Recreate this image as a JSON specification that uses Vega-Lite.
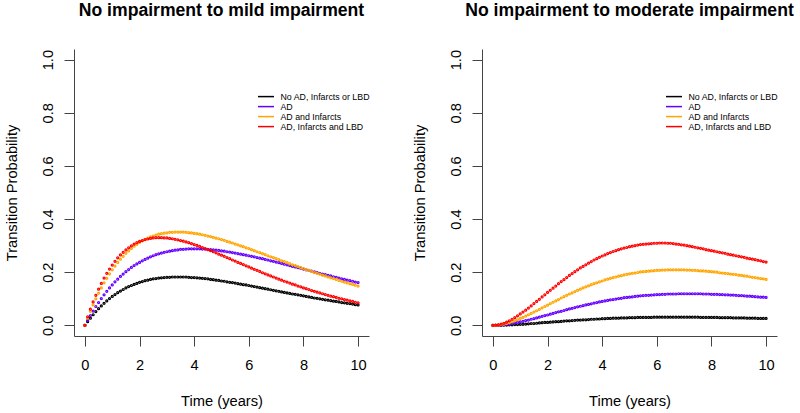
{
"$schema": "https://vega.github.io/schema/vega-lite/v6.json",
"background": "white",
"padding": {"left": 4, "top": 2, "right": 0, "bottom": 0},
"bounds": "flush",
"spacing": 113,
"resolve": {"legend": {"color": "independent"}},
"config": {
 "view": {"stroke": null},
 "font": "Liberation Sans",
 "axis": {"grid": false, "domainColor": "#444", "tickColor": "#444", "domainWidth": 1, "tickWidth": 1, "tickSize": 10, "labelFont": "Liberation Sans", "labelFontSize": 14.6, "labelColor": "#000", "titleFont": "Liberation Sans", "titleFontSize": 14.7, "titleFontWeight": "normal", "titleColor": "#000", "labelFlush": false, "labelOverlap": false},
 "legend": {"orient": "none", "legendX": 187, "legendY": 42.6, "title": null, "symbolType": "M-2,0H2", "symbolSize": 64, "symbolStrokeWidth": 1.5, "labelFont": "Liberation Sans", "labelFontSize": 8.8, "labelColor": "#000", "labelOffset": 9.5, "rowPadding": 0, "padding": 0}
},
"datasets": {
"groups": [{"g":1,"label":"No AD, Infarcts or LBD"},{"g":2,"label":"AD"},{"g":3,"label":"AD and Infarcts"},{"g":4,"label":"AD, Infarcts and LBD"}],
"mild": [
{"t":0,"g":1,"v":0},{"t":0.1,"g":1,"v":0.014},{"t":0.2,"g":1,"v":0.027},{"t":0.3,"g":1,"v":0.040},{"t":0.4,"g":1,"v":0.052},{"t":0.5,"g":1,"v":0.063},{"t":0.6,"g":1,"v":0.073},{"t":0.7,"g":1,"v":0.083},{"t":0.8,"g":1,"v":0.092},{"t":0.9,"g":1,"v":0.101},
{"t":1,"g":1,"v":0.109},{"t":1.1,"g":1,"v":0.116},{"t":1.2,"g":1,"v":0.123},{"t":1.3,"g":1,"v":0.129},{"t":1.4,"g":1,"v":0.135},{"t":1.5,"g":1,"v":0.141},{"t":1.6,"g":1,"v":0.146},{"t":1.7,"g":1,"v":0.150},{"t":1.8,"g":1,"v":0.154},{"t":1.9,"g":1,"v":0.158},
{"t":2,"g":1,"v":0.162},{"t":2.1,"g":1,"v":0.165},{"t":2.2,"g":1,"v":0.168},{"t":2.3,"g":1,"v":0.170},{"t":2.4,"g":1,"v":0.173},{"t":2.5,"g":1,"v":0.175},{"t":2.6,"g":1,"v":0.176},{"t":2.7,"g":1,"v":0.178},{"t":2.8,"g":1,"v":0.179},{"t":2.9,"g":1,"v":0.180},
{"t":3,"g":1,"v":0.181},{"t":3.1,"g":1,"v":0.181},{"t":3.2,"g":1,"v":0.182},{"t":3.3,"g":1,"v":0.182},{"t":3.4,"g":1,"v":0.182},{"t":3.5,"g":1,"v":0.182},{"t":3.6,"g":1,"v":0.182},{"t":3.7,"g":1,"v":0.182},{"t":3.8,"g":1,"v":0.181},{"t":3.9,"g":1,"v":0.180},
{"t":4,"g":1,"v":0.180},{"t":4.1,"g":1,"v":0.179},{"t":4.2,"g":1,"v":0.178},{"t":4.3,"g":1,"v":0.177},{"t":4.4,"g":1,"v":0.176},{"t":4.5,"g":1,"v":0.175},{"t":4.6,"g":1,"v":0.173},{"t":4.7,"g":1,"v":0.172},{"t":4.8,"g":1,"v":0.170},{"t":4.9,"g":1,"v":0.169},
{"t":5,"g":1,"v":0.167},{"t":5.1,"g":1,"v":0.166},{"t":5.2,"g":1,"v":0.164},{"t":5.3,"g":1,"v":0.162},{"t":5.4,"g":1,"v":0.161},{"t":5.5,"g":1,"v":0.159},{"t":5.6,"g":1,"v":0.157},{"t":5.7,"g":1,"v":0.155},{"t":5.8,"g":1,"v":0.153},{"t":5.9,"g":1,"v":0.152},
{"t":6,"g":1,"v":0.150},{"t":6.1,"g":1,"v":0.148},{"t":6.2,"g":1,"v":0.146},{"t":6.3,"g":1,"v":0.144},{"t":6.4,"g":1,"v":0.142},{"t":6.5,"g":1,"v":0.140},{"t":6.6,"g":1,"v":0.138},{"t":6.7,"g":1,"v":0.136},{"t":6.8,"g":1,"v":0.134},{"t":6.9,"g":1,"v":0.132},
{"t":7,"g":1,"v":0.130},{"t":7.1,"g":1,"v":0.128},{"t":7.2,"g":1,"v":0.126},{"t":7.3,"g":1,"v":0.124},{"t":7.4,"g":1,"v":0.122},{"t":7.5,"g":1,"v":0.120},{"t":7.6,"g":1,"v":0.118},{"t":7.7,"g":1,"v":0.117},{"t":7.8,"g":1,"v":0.115},{"t":7.9,"g":1,"v":0.113},
{"t":8,"g":1,"v":0.111},{"t":8.1,"g":1,"v":0.109},{"t":8.2,"g":1,"v":0.107},{"t":8.3,"g":1,"v":0.105},{"t":8.4,"g":1,"v":0.103},{"t":8.5,"g":1,"v":0.102},{"t":8.6,"g":1,"v":0.100},{"t":8.7,"g":1,"v":0.098},{"t":8.8,"g":1,"v":0.096},{"t":8.9,"g":1,"v":0.095},
{"t":9,"g":1,"v":0.093},{"t":9.1,"g":1,"v":0.091},{"t":9.2,"g":1,"v":0.090},{"t":9.3,"g":1,"v":0.088},{"t":9.4,"g":1,"v":0.086},{"t":9.5,"g":1,"v":0.085},{"t":9.6,"g":1,"v":0.083},{"t":9.7,"g":1,"v":0.082},{"t":9.8,"g":1,"v":0.080},{"t":9.9,"g":1,"v":0.078},{"t":10,"g":1,"v":0.077},
{"t":0,"g":2,"v":0},{"t":0.1,"g":2,"v":0.019},{"t":0.2,"g":2,"v":0.037},{"t":0.3,"g":2,"v":0.054},{"t":0.4,"g":2,"v":0.071},{"t":0.5,"g":2,"v":0.086},{"t":0.6,"g":2,"v":0.101},{"t":0.7,"g":2,"v":0.115},{"t":0.8,"g":2,"v":0.128},{"t":0.9,"g":2,"v":0.141},
{"t":1,"g":2,"v":0.152},{"t":1.1,"g":2,"v":0.164},{"t":1.2,"g":2,"v":0.174},{"t":1.3,"g":2,"v":0.184},{"t":1.4,"g":2,"v":0.193},{"t":1.5,"g":2,"v":0.202},{"t":1.6,"g":2,"v":0.210},{"t":1.7,"g":2,"v":0.218},{"t":1.8,"g":2,"v":0.225},{"t":1.9,"g":2,"v":0.231},
{"t":2,"g":2,"v":0.237},{"t":2.1,"g":2,"v":0.243},{"t":2.2,"g":2,"v":0.248},{"t":2.3,"g":2,"v":0.253},{"t":2.4,"g":2,"v":0.258},{"t":2.5,"g":2,"v":0.262},{"t":2.6,"g":2,"v":0.266},{"t":2.7,"g":2,"v":0.269},{"t":2.8,"g":2,"v":0.272},{"t":2.9,"g":2,"v":0.275},
{"t":3,"g":2,"v":0.277},{"t":3.1,"g":2,"v":0.279},{"t":3.2,"g":2,"v":0.281},{"t":3.3,"g":2,"v":0.283},{"t":3.4,"g":2,"v":0.284},{"t":3.5,"g":2,"v":0.286},{"t":3.6,"g":2,"v":0.286},{"t":3.7,"g":2,"v":0.287},{"t":3.8,"g":2,"v":0.288},{"t":3.9,"g":2,"v":0.288},
{"t":4,"g":2,"v":0.288},{"t":4.1,"g":2,"v":0.288},{"t":4.2,"g":2,"v":0.288},{"t":4.3,"g":2,"v":0.287},{"t":4.4,"g":2,"v":0.287},{"t":4.5,"g":2,"v":0.286},{"t":4.6,"g":2,"v":0.285},{"t":4.7,"g":2,"v":0.284},{"t":4.8,"g":2,"v":0.283},{"t":4.9,"g":2,"v":0.282},
{"t":5,"g":2,"v":0.280},{"t":5.1,"g":2,"v":0.279},{"t":5.2,"g":2,"v":0.277},{"t":5.3,"g":2,"v":0.276},{"t":5.4,"g":2,"v":0.274},{"t":5.5,"g":2,"v":0.272},{"t":5.6,"g":2,"v":0.270},{"t":5.7,"g":2,"v":0.268},{"t":5.8,"g":2,"v":0.266},{"t":5.9,"g":2,"v":0.264},
{"t":6,"g":2,"v":0.262},{"t":6.1,"g":2,"v":0.260},{"t":6.2,"g":2,"v":0.258},{"t":6.3,"g":2,"v":0.255},{"t":6.4,"g":2,"v":0.253},{"t":6.5,"g":2,"v":0.251},{"t":6.6,"g":2,"v":0.248},{"t":6.7,"g":2,"v":0.246},{"t":6.8,"g":2,"v":0.243},{"t":6.9,"g":2,"v":0.241},
{"t":7,"g":2,"v":0.238},{"t":7.1,"g":2,"v":0.236},{"t":7.2,"g":2,"v":0.233},{"t":7.3,"g":2,"v":0.230},{"t":7.4,"g":2,"v":0.228},{"t":7.5,"g":2,"v":0.225},{"t":7.6,"g":2,"v":0.222},{"t":7.7,"g":2,"v":0.220},{"t":7.8,"g":2,"v":0.217},{"t":7.9,"g":2,"v":0.215},
{"t":8,"g":2,"v":0.212},{"t":8.1,"g":2,"v":0.209},{"t":8.2,"g":2,"v":0.207},{"t":8.3,"g":2,"v":0.204},{"t":8.4,"g":2,"v":0.201},{"t":8.5,"g":2,"v":0.199},{"t":8.6,"g":2,"v":0.196},{"t":8.7,"g":2,"v":0.193},{"t":8.8,"g":2,"v":0.191},{"t":8.9,"g":2,"v":0.188},
{"t":9,"g":2,"v":0.186},{"t":9.1,"g":2,"v":0.183},{"t":9.2,"g":2,"v":0.181},{"t":9.3,"g":2,"v":0.178},{"t":9.4,"g":2,"v":0.175},{"t":9.5,"g":2,"v":0.173},{"t":9.6,"g":2,"v":0.170},{"t":9.7,"g":2,"v":0.168},{"t":9.8,"g":2,"v":0.166},{"t":9.9,"g":2,"v":0.163},{"t":10,"g":2,"v":0.161},
{"t":0,"g":3,"v":0},{"t":0.1,"g":3,"v":0.027},{"t":0.2,"g":3,"v":0.053},{"t":0.3,"g":3,"v":0.077},{"t":0.4,"g":3,"v":0.100},{"t":0.5,"g":3,"v":0.121},{"t":0.6,"g":3,"v":0.141},{"t":0.7,"g":3,"v":0.160},{"t":0.8,"g":3,"v":0.177},{"t":0.9,"g":3,"v":0.194},
{"t":1,"g":3,"v":0.209},{"t":1.1,"g":3,"v":0.223},{"t":1.2,"g":3,"v":0.237},{"t":1.3,"g":3,"v":0.249},{"t":1.4,"g":3,"v":0.260},{"t":1.5,"g":3,"v":0.271},{"t":1.6,"g":3,"v":0.280},{"t":1.7,"g":3,"v":0.289},{"t":1.8,"g":3,"v":0.298},{"t":1.9,"g":3,"v":0.305},
{"t":2,"g":3,"v":0.312},{"t":2.1,"g":3,"v":0.318},{"t":2.2,"g":3,"v":0.323},{"t":2.3,"g":3,"v":0.328},{"t":2.4,"g":3,"v":0.333},{"t":2.5,"g":3,"v":0.336},{"t":2.6,"g":3,"v":0.340},{"t":2.7,"g":3,"v":0.343},{"t":2.8,"g":3,"v":0.345},{"t":2.9,"g":3,"v":0.347},
{"t":3,"g":3,"v":0.348},{"t":3.1,"g":3,"v":0.350},{"t":3.2,"g":3,"v":0.350},{"t":3.3,"g":3,"v":0.351},{"t":3.4,"g":3,"v":0.351},{"t":3.5,"g":3,"v":0.351},{"t":3.6,"g":3,"v":0.351},{"t":3.7,"g":3,"v":0.350},{"t":3.8,"g":3,"v":0.349},{"t":3.9,"g":3,"v":0.348},
{"t":4,"g":3,"v":0.346},{"t":4.1,"g":3,"v":0.345},{"t":4.2,"g":3,"v":0.343},{"t":4.3,"g":3,"v":0.341},{"t":4.4,"g":3,"v":0.339},{"t":4.5,"g":3,"v":0.336},{"t":4.6,"g":3,"v":0.334},{"t":4.7,"g":3,"v":0.331},{"t":4.8,"g":3,"v":0.328},{"t":4.9,"g":3,"v":0.326},
{"t":5,"g":3,"v":0.323},{"t":5.1,"g":3,"v":0.320},{"t":5.2,"g":3,"v":0.316},{"t":5.3,"g":3,"v":0.313},{"t":5.4,"g":3,"v":0.310},{"t":5.5,"g":3,"v":0.306},{"t":5.6,"g":3,"v":0.303},{"t":5.7,"g":3,"v":0.299},{"t":5.8,"g":3,"v":0.296},{"t":5.9,"g":3,"v":0.292},
{"t":6,"g":3,"v":0.289},{"t":6.1,"g":3,"v":0.285},{"t":6.2,"g":3,"v":0.281},{"t":6.3,"g":3,"v":0.277},{"t":6.4,"g":3,"v":0.274},{"t":6.5,"g":3,"v":0.270},{"t":6.6,"g":3,"v":0.266},{"t":6.7,"g":3,"v":0.262},{"t":6.8,"g":3,"v":0.258},{"t":6.9,"g":3,"v":0.255},
{"t":7,"g":3,"v":0.251},{"t":7.1,"g":3,"v":0.247},{"t":7.2,"g":3,"v":0.243},{"t":7.3,"g":3,"v":0.240},{"t":7.4,"g":3,"v":0.236},{"t":7.5,"g":3,"v":0.232},{"t":7.6,"g":3,"v":0.228},{"t":7.7,"g":3,"v":0.225},{"t":7.8,"g":3,"v":0.221},{"t":7.9,"g":3,"v":0.217},
{"t":8,"g":3,"v":0.214},{"t":8.1,"g":3,"v":0.210},{"t":8.2,"g":3,"v":0.207},{"t":8.3,"g":3,"v":0.203},{"t":8.4,"g":3,"v":0.199},{"t":8.5,"g":3,"v":0.196},{"t":8.6,"g":3,"v":0.193},{"t":8.7,"g":3,"v":0.189},{"t":8.8,"g":3,"v":0.186},{"t":8.9,"g":3,"v":0.182},
{"t":9,"g":3,"v":0.179},{"t":9.1,"g":3,"v":0.176},{"t":9.2,"g":3,"v":0.173},{"t":9.3,"g":3,"v":0.169},{"t":9.4,"g":3,"v":0.166},{"t":9.5,"g":3,"v":0.163},{"t":9.6,"g":3,"v":0.160},{"t":9.7,"g":3,"v":0.157},{"t":9.8,"g":3,"v":0.154},{"t":9.9,"g":3,"v":0.151},{"t":10,"g":3,"v":0.148},
{"t":0,"g":4,"v":0},{"t":0.1,"g":4,"v":0.032},{"t":0.2,"g":4,"v":0.061},{"t":0.3,"g":4,"v":0.088},{"t":0.4,"g":4,"v":0.113},{"t":0.5,"g":4,"v":0.136},{"t":0.6,"g":4,"v":0.158},{"t":0.7,"g":4,"v":0.178},{"t":0.8,"g":4,"v":0.196},{"t":0.9,"g":4,"v":0.212},
{"t":1,"g":4,"v":0.227},{"t":1.1,"g":4,"v":0.241},{"t":1.2,"g":4,"v":0.254},{"t":1.3,"g":4,"v":0.265},{"t":1.4,"g":4,"v":0.275},{"t":1.5,"g":4,"v":0.284},{"t":1.6,"g":4,"v":0.292},{"t":1.7,"g":4,"v":0.299},{"t":1.8,"g":4,"v":0.306},{"t":1.9,"g":4,"v":0.311},
{"t":2,"g":4,"v":0.316},{"t":2.1,"g":4,"v":0.319},{"t":2.2,"g":4,"v":0.323},{"t":2.3,"g":4,"v":0.325},{"t":2.4,"g":4,"v":0.327},{"t":2.5,"g":4,"v":0.329},{"t":2.6,"g":4,"v":0.330},{"t":2.7,"g":4,"v":0.330},{"t":2.8,"g":4,"v":0.330},{"t":2.9,"g":4,"v":0.329},
{"t":3,"g":4,"v":0.329},{"t":3.1,"g":4,"v":0.327},{"t":3.2,"g":4,"v":0.326},{"t":3.3,"g":4,"v":0.324},{"t":3.4,"g":4,"v":0.322},{"t":3.5,"g":4,"v":0.319},{"t":3.6,"g":4,"v":0.317},{"t":3.7,"g":4,"v":0.314},{"t":3.8,"g":4,"v":0.311},{"t":3.9,"g":4,"v":0.308},
{"t":4,"g":4,"v":0.304},{"t":4.1,"g":4,"v":0.301},{"t":4.2,"g":4,"v":0.297},{"t":4.3,"g":4,"v":0.293},{"t":4.4,"g":4,"v":0.289},{"t":4.5,"g":4,"v":0.285},{"t":4.6,"g":4,"v":0.281},{"t":4.7,"g":4,"v":0.277},{"t":4.8,"g":4,"v":0.273},{"t":4.9,"g":4,"v":0.268},
{"t":5,"g":4,"v":0.264},{"t":5.1,"g":4,"v":0.260},{"t":5.2,"g":4,"v":0.255},{"t":5.3,"g":4,"v":0.251},{"t":5.4,"g":4,"v":0.246},{"t":5.5,"g":4,"v":0.242},{"t":5.6,"g":4,"v":0.237},{"t":5.7,"g":4,"v":0.233},{"t":5.8,"g":4,"v":0.229},{"t":5.9,"g":4,"v":0.224},
{"t":6,"g":4,"v":0.220},{"t":6.1,"g":4,"v":0.215},{"t":6.2,"g":4,"v":0.211},{"t":6.3,"g":4,"v":0.207},{"t":6.4,"g":4,"v":0.203},{"t":6.5,"g":4,"v":0.198},{"t":6.6,"g":4,"v":0.194},{"t":6.7,"g":4,"v":0.190},{"t":6.8,"g":4,"v":0.186},{"t":6.9,"g":4,"v":0.182},
{"t":7,"g":4,"v":0.178},{"t":7.1,"g":4,"v":0.174},{"t":7.2,"g":4,"v":0.170},{"t":7.3,"g":4,"v":0.166},{"t":7.4,"g":4,"v":0.163},{"t":7.5,"g":4,"v":0.159},{"t":7.6,"g":4,"v":0.155},{"t":7.7,"g":4,"v":0.152},{"t":7.8,"g":4,"v":0.148},{"t":7.9,"g":4,"v":0.145},
{"t":8,"g":4,"v":0.141},{"t":8.1,"g":4,"v":0.138},{"t":8.2,"g":4,"v":0.135},{"t":8.3,"g":4,"v":0.131},{"t":8.4,"g":4,"v":0.128},{"t":8.5,"g":4,"v":0.125},{"t":8.6,"g":4,"v":0.122},{"t":8.7,"g":4,"v":0.119},{"t":8.8,"g":4,"v":0.116},{"t":8.9,"g":4,"v":0.113},
{"t":9,"g":4,"v":0.110},{"t":9.1,"g":4,"v":0.108},{"t":9.2,"g":4,"v":0.105},{"t":9.3,"g":4,"v":0.102},{"t":9.4,"g":4,"v":0.100},{"t":9.5,"g":4,"v":0.097},{"t":9.6,"g":4,"v":0.095},{"t":9.7,"g":4,"v":0.092},{"t":9.8,"g":4,"v":0.090},{"t":9.9,"g":4,"v":0.087},{"t":10,"g":4,"v":0.085}
],
"moderate": [
{"t":0,"g":1,"v":0},{"t":0.1,"g":1,"v":0},{"t":0.2,"g":1,"v":0},{"t":0.3,"g":1,"v":0},{"t":0.4,"g":1,"v":0.001},{"t":0.5,"g":1,"v":0.001},{"t":0.6,"g":1,"v":0.002},{"t":0.7,"g":1,"v":0.002},{"t":0.8,"g":1,"v":0.003},{"t":0.9,"g":1,"v":0.003},
{"t":1,"g":1,"v":0.004},{"t":1.1,"g":1,"v":0.004},{"t":1.2,"g":1,"v":0.005},{"t":1.3,"g":1,"v":0.006},{"t":1.4,"g":1,"v":0.007},{"t":1.5,"g":1,"v":0.007},{"t":1.6,"g":1,"v":0.008},{"t":1.7,"g":1,"v":0.009},{"t":1.8,"g":1,"v":0.010},{"t":1.9,"g":1,"v":0.011},
{"t":2,"g":1,"v":0.011},{"t":2.1,"g":1,"v":0.012},{"t":2.2,"g":1,"v":0.013},{"t":2.3,"g":1,"v":0.014},{"t":2.4,"g":1,"v":0.014},{"t":2.5,"g":1,"v":0.015},{"t":2.6,"g":1,"v":0.016},{"t":2.7,"g":1,"v":0.017},{"t":2.8,"g":1,"v":0.017},{"t":2.9,"g":1,"v":0.018},
{"t":3,"g":1,"v":0.019},{"t":3.1,"g":1,"v":0.020},{"t":3.2,"g":1,"v":0.020},{"t":3.3,"g":1,"v":0.021},{"t":3.4,"g":1,"v":0.021},{"t":3.5,"g":1,"v":0.022},{"t":3.6,"g":1,"v":0.023},{"t":3.7,"g":1,"v":0.023},{"t":3.8,"g":1,"v":0.024},{"t":3.9,"g":1,"v":0.024},
{"t":4,"g":1,"v":0.025},{"t":4.1,"g":1,"v":0.025},{"t":4.2,"g":1,"v":0.026},{"t":4.3,"g":1,"v":0.026},{"t":4.4,"g":1,"v":0.027},{"t":4.5,"g":1,"v":0.027},{"t":4.6,"g":1,"v":0.027},{"t":4.7,"g":1,"v":0.028},{"t":4.8,"g":1,"v":0.028},{"t":4.9,"g":1,"v":0.028},
{"t":5,"g":1,"v":0.029},{"t":5.1,"g":1,"v":0.029},{"t":5.2,"g":1,"v":0.029},{"t":5.3,"g":1,"v":0.030},{"t":5.4,"g":1,"v":0.030},{"t":5.5,"g":1,"v":0.030},{"t":5.6,"g":1,"v":0.030},{"t":5.7,"g":1,"v":0.030},{"t":5.8,"g":1,"v":0.030},{"t":5.9,"g":1,"v":0.031},
{"t":6,"g":1,"v":0.031},{"t":6.1,"g":1,"v":0.031},{"t":6.2,"g":1,"v":0.031},{"t":6.3,"g":1,"v":0.031},{"t":6.4,"g":1,"v":0.031},{"t":6.5,"g":1,"v":0.031},{"t":6.6,"g":1,"v":0.031},{"t":6.7,"g":1,"v":0.031},{"t":6.8,"g":1,"v":0.031},{"t":6.9,"g":1,"v":0.031},
{"t":7,"g":1,"v":0.031},{"t":7.1,"g":1,"v":0.031},{"t":7.2,"g":1,"v":0.031},{"t":7.3,"g":1,"v":0.031},{"t":7.4,"g":1,"v":0.031},{"t":7.5,"g":1,"v":0.031},{"t":7.6,"g":1,"v":0.030},{"t":7.7,"g":1,"v":0.030},{"t":7.8,"g":1,"v":0.030},{"t":7.9,"g":1,"v":0.030},
{"t":8,"g":1,"v":0.030},{"t":8.1,"g":1,"v":0.030},{"t":8.2,"g":1,"v":0.030},{"t":8.3,"g":1,"v":0.029},{"t":8.4,"g":1,"v":0.029},{"t":8.5,"g":1,"v":0.029},{"t":8.6,"g":1,"v":0.029},{"t":8.7,"g":1,"v":0.029},{"t":8.8,"g":1,"v":0.028},{"t":8.9,"g":1,"v":0.028},
{"t":9,"g":1,"v":0.028},{"t":9.1,"g":1,"v":0.028},{"t":9.2,"g":1,"v":0.028},{"t":9.3,"g":1,"v":0.027},{"t":9.4,"g":1,"v":0.027},{"t":9.5,"g":1,"v":0.027},{"t":9.6,"g":1,"v":0.027},{"t":9.7,"g":1,"v":0.026},{"t":9.8,"g":1,"v":0.026},{"t":9.9,"g":1,"v":0.026},{"t":10,"g":1,"v":0.026},
{"t":0,"g":2,"v":0},{"t":0.1,"g":2,"v":0},{"t":0.2,"g":2,"v":0.001},{"t":0.3,"g":2,"v":0.001},{"t":0.4,"g":2,"v":0.002},{"t":0.5,"g":2,"v":0.004},{"t":0.6,"g":2,"v":0.005},{"t":0.7,"g":2,"v":0.007},{"t":0.8,"g":2,"v":0.009},{"t":0.9,"g":2,"v":0.011},
{"t":1,"g":2,"v":0.013},{"t":1.1,"g":2,"v":0.015},{"t":1.2,"g":2,"v":0.018},{"t":1.3,"g":2,"v":0.020},{"t":1.4,"g":2,"v":0.023},{"t":1.5,"g":2,"v":0.025},{"t":1.6,"g":2,"v":0.028},{"t":1.7,"g":2,"v":0.031},{"t":1.8,"g":2,"v":0.034},{"t":1.9,"g":2,"v":0.037},
{"t":2,"g":2,"v":0.039},{"t":2.1,"g":2,"v":0.042},{"t":2.2,"g":2,"v":0.045},{"t":2.3,"g":2,"v":0.048},{"t":2.4,"g":2,"v":0.051},{"t":2.5,"g":2,"v":0.053},{"t":2.6,"g":2,"v":0.056},{"t":2.7,"g":2,"v":0.059},{"t":2.8,"g":2,"v":0.062},{"t":2.9,"g":2,"v":0.064},
{"t":3,"g":2,"v":0.067},{"t":3.1,"g":2,"v":0.070},{"t":3.2,"g":2,"v":0.072},{"t":3.3,"g":2,"v":0.074},{"t":3.4,"g":2,"v":0.077},{"t":3.5,"g":2,"v":0.079},{"t":3.6,"g":2,"v":0.081},{"t":3.7,"g":2,"v":0.084},{"t":3.8,"g":2,"v":0.086},{"t":3.9,"g":2,"v":0.088},
{"t":4,"g":2,"v":0.090},{"t":4.1,"g":2,"v":0.092},{"t":4.2,"g":2,"v":0.094},{"t":4.3,"g":2,"v":0.096},{"t":4.4,"g":2,"v":0.097},{"t":4.5,"g":2,"v":0.099},{"t":4.6,"g":2,"v":0.101},{"t":4.7,"g":2,"v":0.102},{"t":4.8,"g":2,"v":0.104},{"t":4.9,"g":2,"v":0.105},
{"t":5,"g":2,"v":0.106},{"t":5.1,"g":2,"v":0.107},{"t":5.2,"g":2,"v":0.109},{"t":5.3,"g":2,"v":0.110},{"t":5.4,"g":2,"v":0.111},{"t":5.5,"g":2,"v":0.112},{"t":5.6,"g":2,"v":0.113},{"t":5.7,"g":2,"v":0.113},{"t":5.8,"g":2,"v":0.114},{"t":5.9,"g":2,"v":0.115},
{"t":6,"g":2,"v":0.116},{"t":6.1,"g":2,"v":0.116},{"t":6.2,"g":2,"v":0.117},{"t":6.3,"g":2,"v":0.117},{"t":6.4,"g":2,"v":0.118},{"t":6.5,"g":2,"v":0.118},{"t":6.6,"g":2,"v":0.118},{"t":6.7,"g":2,"v":0.118},{"t":6.8,"g":2,"v":0.119},{"t":6.9,"g":2,"v":0.119},
{"t":7,"g":2,"v":0.119},{"t":7.1,"g":2,"v":0.119},{"t":7.2,"g":2,"v":0.119},{"t":7.3,"g":2,"v":0.119},{"t":7.4,"g":2,"v":0.119},{"t":7.5,"g":2,"v":0.119},{"t":7.6,"g":2,"v":0.119},{"t":7.7,"g":2,"v":0.118},{"t":7.8,"g":2,"v":0.118},{"t":7.9,"g":2,"v":0.118},
{"t":8,"g":2,"v":0.117},{"t":8.1,"g":2,"v":0.117},{"t":8.2,"g":2,"v":0.117},{"t":8.3,"g":2,"v":0.116},{"t":8.4,"g":2,"v":0.116},{"t":8.5,"g":2,"v":0.115},{"t":8.6,"g":2,"v":0.115},{"t":8.7,"g":2,"v":0.114},{"t":8.8,"g":2,"v":0.114},{"t":8.9,"g":2,"v":0.113},
{"t":9,"g":2,"v":0.112},{"t":9.1,"g":2,"v":0.112},{"t":9.2,"g":2,"v":0.111},{"t":9.3,"g":2,"v":0.110},{"t":9.4,"g":2,"v":0.110},{"t":9.5,"g":2,"v":0.109},{"t":9.6,"g":2,"v":0.108},{"t":9.7,"g":2,"v":0.107},{"t":9.8,"g":2,"v":0.106},{"t":9.9,"g":2,"v":0.106},{"t":10,"g":2,"v":0.105},
{"t":0,"g":3,"v":0},{"t":0.1,"g":3,"v":0},{"t":0.2,"g":3,"v":0.001},{"t":0.3,"g":3,"v":0.003},{"t":0.4,"g":3,"v":0.005},{"t":0.5,"g":3,"v":0.007},{"t":0.6,"g":3,"v":0.010},{"t":0.7,"g":3,"v":0.014},{"t":0.8,"g":3,"v":0.017},{"t":0.9,"g":3,"v":0.021},
{"t":1,"g":3,"v":0.026},{"t":1.1,"g":3,"v":0.030},{"t":1.2,"g":3,"v":0.035},{"t":1.3,"g":3,"v":0.040},{"t":1.4,"g":3,"v":0.045},{"t":1.5,"g":3,"v":0.050},{"t":1.6,"g":3,"v":0.055},{"t":1.7,"g":3,"v":0.060},{"t":1.8,"g":3,"v":0.066},{"t":1.9,"g":3,"v":0.071},
{"t":2,"g":3,"v":0.076},{"t":2.1,"g":3,"v":0.082},{"t":2.2,"g":3,"v":0.087},{"t":2.3,"g":3,"v":0.092},{"t":2.4,"g":3,"v":0.097},{"t":2.5,"g":3,"v":0.103},{"t":2.6,"g":3,"v":0.108},{"t":2.7,"g":3,"v":0.113},{"t":2.8,"g":3,"v":0.118},{"t":2.9,"g":3,"v":0.122},
{"t":3,"g":3,"v":0.127},{"t":3.1,"g":3,"v":0.132},{"t":3.2,"g":3,"v":0.136},{"t":3.3,"g":3,"v":0.141},{"t":3.4,"g":3,"v":0.145},{"t":3.5,"g":3,"v":0.149},{"t":3.6,"g":3,"v":0.153},{"t":3.7,"g":3,"v":0.157},{"t":3.8,"g":3,"v":0.160},{"t":3.9,"g":3,"v":0.164},
{"t":4,"g":3,"v":0.167},{"t":4.1,"g":3,"v":0.171},{"t":4.2,"g":3,"v":0.174},{"t":4.3,"g":3,"v":0.177},{"t":4.4,"g":3,"v":0.180},{"t":4.5,"g":3,"v":0.182},{"t":4.6,"g":3,"v":0.185},{"t":4.7,"g":3,"v":0.187},{"t":4.8,"g":3,"v":0.190},{"t":4.9,"g":3,"v":0.192},
{"t":5,"g":3,"v":0.194},{"t":5.1,"g":3,"v":0.196},{"t":5.2,"g":3,"v":0.197},{"t":5.3,"g":3,"v":0.199},{"t":5.4,"g":3,"v":0.201},{"t":5.5,"g":3,"v":0.202},{"t":5.6,"g":3,"v":0.203},{"t":5.7,"g":3,"v":0.204},{"t":5.8,"g":3,"v":0.205},{"t":5.9,"g":3,"v":0.206},
{"t":6,"g":3,"v":0.207},{"t":6.1,"g":3,"v":0.207},{"t":6.2,"g":3,"v":0.208},{"t":6.3,"g":3,"v":0.208},{"t":6.4,"g":3,"v":0.209},{"t":6.5,"g":3,"v":0.209},{"t":6.6,"g":3,"v":0.209},{"t":6.7,"g":3,"v":0.209},{"t":6.8,"g":3,"v":0.209},{"t":6.9,"g":3,"v":0.209},
{"t":7,"g":3,"v":0.209},{"t":7.1,"g":3,"v":0.208},{"t":7.2,"g":3,"v":0.208},{"t":7.3,"g":3,"v":0.207},{"t":7.4,"g":3,"v":0.207},{"t":7.5,"g":3,"v":0.206},{"t":7.6,"g":3,"v":0.205},{"t":7.7,"g":3,"v":0.205},{"t":7.8,"g":3,"v":0.204},{"t":7.9,"g":3,"v":0.203},
{"t":8,"g":3,"v":0.202},{"t":8.1,"g":3,"v":0.201},{"t":8.2,"g":3,"v":0.200},{"t":8.3,"g":3,"v":0.198},{"t":8.4,"g":3,"v":0.197},{"t":8.5,"g":3,"v":0.196},{"t":8.6,"g":3,"v":0.195},{"t":8.7,"g":3,"v":0.193},{"t":8.8,"g":3,"v":0.192},{"t":8.9,"g":3,"v":0.191},
{"t":9,"g":3,"v":0.189},{"t":9.1,"g":3,"v":0.188},{"t":9.2,"g":3,"v":0.186},{"t":9.3,"g":3,"v":0.185},{"t":9.4,"g":3,"v":0.183},{"t":9.5,"g":3,"v":0.181},{"t":9.6,"g":3,"v":0.180},{"t":9.7,"g":3,"v":0.178},{"t":9.8,"g":3,"v":0.176},{"t":9.9,"g":3,"v":0.175},{"t":10,"g":3,"v":0.173},
{"t":0,"g":4,"v":0},{"t":0.1,"g":4,"v":0.001},{"t":0.2,"g":4,"v":0.002},{"t":0.3,"g":4,"v":0.005},{"t":0.4,"g":4,"v":0.008},{"t":0.5,"g":4,"v":0.012},{"t":0.6,"g":4,"v":0.017},{"t":0.7,"g":4,"v":0.023},{"t":0.8,"g":4,"v":0.029},{"t":0.9,"g":4,"v":0.036},
{"t":1,"g":4,"v":0.043},{"t":1.1,"g":4,"v":0.050},{"t":1.2,"g":4,"v":0.057},{"t":1.3,"g":4,"v":0.065},{"t":1.4,"g":4,"v":0.073},{"t":1.5,"g":4,"v":0.082},{"t":1.6,"g":4,"v":0.090},{"t":1.7,"g":4,"v":0.098},{"t":1.8,"g":4,"v":0.107},{"t":1.9,"g":4,"v":0.115},
{"t":2,"g":4,"v":0.124},{"t":2.1,"g":4,"v":0.132},{"t":2.2,"g":4,"v":0.140},{"t":2.3,"g":4,"v":0.148},{"t":2.4,"g":4,"v":0.157},{"t":2.5,"g":4,"v":0.165},{"t":2.6,"g":4,"v":0.172},{"t":2.7,"g":4,"v":0.180},{"t":2.8,"g":4,"v":0.188},{"t":2.9,"g":4,"v":0.195},
{"t":3,"g":4,"v":0.202},{"t":3.1,"g":4,"v":0.209},{"t":3.2,"g":4,"v":0.216},{"t":3.3,"g":4,"v":0.222},{"t":3.4,"g":4,"v":0.228},{"t":3.5,"g":4,"v":0.234},{"t":3.6,"g":4,"v":0.240},{"t":3.7,"g":4,"v":0.246},{"t":3.8,"g":4,"v":0.251},{"t":3.9,"g":4,"v":0.256},
{"t":4,"g":4,"v":0.261},{"t":4.1,"g":4,"v":0.265},{"t":4.2,"g":4,"v":0.270},{"t":4.3,"g":4,"v":0.274},{"t":4.4,"g":4,"v":0.278},{"t":4.5,"g":4,"v":0.281},{"t":4.6,"g":4,"v":0.285},{"t":4.7,"g":4,"v":0.288},{"t":4.8,"g":4,"v":0.291},{"t":4.9,"g":4,"v":0.293},
{"t":5,"g":4,"v":0.296},{"t":5.1,"g":4,"v":0.298},{"t":5.2,"g":4,"v":0.300},{"t":5.3,"g":4,"v":0.302},{"t":5.4,"g":4,"v":0.304},{"t":5.5,"g":4,"v":0.305},{"t":5.6,"g":4,"v":0.306},{"t":5.7,"g":4,"v":0.307},{"t":5.8,"g":4,"v":0.308},{"t":5.9,"g":4,"v":0.309},
{"t":6,"g":4,"v":0.309},{"t":6.1,"g":4,"v":0.310},{"t":6.2,"g":4,"v":0.310},{"t":6.3,"g":4,"v":0.310},{"t":6.4,"g":4,"v":0.309},{"t":6.5,"g":4,"v":0.309},{"t":6.6,"g":4,"v":0.308},{"t":6.7,"g":4,"v":0.306},{"t":6.8,"g":4,"v":0.305},{"t":6.9,"g":4,"v":0.303},
{"t":7,"g":4,"v":0.302},{"t":7.1,"g":4,"v":0.300},{"t":7.2,"g":4,"v":0.298},{"t":7.3,"g":4,"v":0.296},{"t":7.4,"g":4,"v":0.294},{"t":7.5,"g":4,"v":0.292},{"t":7.6,"g":4,"v":0.290},{"t":7.7,"g":4,"v":0.288},{"t":7.8,"g":4,"v":0.285},{"t":7.9,"g":4,"v":0.283},
{"t":8,"g":4,"v":0.281},{"t":8.1,"g":4,"v":0.279},{"t":8.2,"g":4,"v":0.277},{"t":8.3,"g":4,"v":0.275},{"t":8.4,"g":4,"v":0.273},{"t":8.5,"g":4,"v":0.271},{"t":8.6,"g":4,"v":0.268},{"t":8.7,"g":4,"v":0.266},{"t":8.8,"g":4,"v":0.264},{"t":8.9,"g":4,"v":0.262},
{"t":9,"g":4,"v":0.260},{"t":9.1,"g":4,"v":0.258},{"t":9.2,"g":4,"v":0.256},{"t":9.3,"g":4,"v":0.253},{"t":9.4,"g":4,"v":0.251},{"t":9.5,"g":4,"v":0.249},{"t":9.6,"g":4,"v":0.247},{"t":9.7,"g":4,"v":0.245},{"t":9.8,"g":4,"v":0.243},{"t":9.9,"g":4,"v":0.240},{"t":10,"g":4,"v":0.238}
]
},
"hconcat": [
{
 "width": 295, "height": 287,
 "data": {"name": "mild"},
 "transform": [{"lookup": "g", "from": {"data": {"name": "groups"}, "key": "g", "fields": ["label"]}}],
 "title": {"text": "No impairment to mild impairment", "font": "Liberation Sans", "fontSize": 17.6, "fontWeight": "bold", "color": "#000", "baseline": "alphabetic", "offset": 15, "anchor": "middle", "frame": "group"},
 "mark": {"type": "point", "shape": "circle", "filled": false, "size": 1.5, "strokeWidth": 2, "opacity": 1},
 "encoding": {
  "x": {"field": "t", "type": "quantitative", "scale": {"domain": [-0.4, 10.4], "nice": false, "zero": false},
        "axis": {"values": [0, 2, 4, 6, 8, 10], "format": "d", "labelBaseline": "alphabetic", "labelPadding": 23, "title": "Time (years)", "titleY": 69.5, "titleBaseline": "alphabetic"}},
  "y": {"field": "v", "type": "quantitative", "scale": {"domain": [-0.04, 1.04], "nice": false, "zero": false},
        "axis": {"values": [0, 0.2, 0.4, 0.6, 0.8, 1], "format": ".1f", "labelAngle": -90, "labelAlign": "center", "labelBaseline": "alphabetic", "labelPadding": 11.7, "title": "Transition Probability", "titleX": -58, "titleY": 143.5, "titleAngle": -90, "titleAlign": "center", "titleBaseline": "alphabetic"}},
  "color": {"field": "label", "type": "nominal", "sort": null,
            "scale": {"domain": ["No AD, Infarcts or LBD", "AD", "AD and Infarcts", "AD, Infarcts and LBD"], "range": ["#000000", "#6400ff", "#ffa500", "#ff0000"]}}
 }
},
{
 "width": 295, "height": 287,
 "data": {"name": "moderate"},
 "transform": [{"lookup": "g", "from": {"data": {"name": "groups"}, "key": "g", "fields": ["label"]}}],
 "title": {"text": "No impairment to moderate impairment", "font": "Liberation Sans", "fontSize": 17.6, "fontWeight": "bold", "color": "#000", "baseline": "alphabetic", "offset": 15, "anchor": "middle", "frame": "group"},
 "mark": {"type": "point", "shape": "circle", "filled": false, "size": 1.5, "strokeWidth": 2, "opacity": 1},
 "encoding": {
  "x": {"field": "t", "type": "quantitative", "scale": {"domain": [-0.4, 10.4], "nice": false, "zero": false},
        "axis": {"values": [0, 2, 4, 6, 8, 10], "format": "d", "labelBaseline": "alphabetic", "labelPadding": 23, "title": "Time (years)", "titleY": 69.5, "titleBaseline": "alphabetic"}},
  "y": {"field": "v", "type": "quantitative", "scale": {"domain": [-0.04, 1.04], "nice": false, "zero": false},
        "axis": {"values": [0, 0.2, 0.4, 0.6, 0.8, 1], "format": ".1f", "labelAngle": -90, "labelAlign": "center", "labelBaseline": "alphabetic", "labelPadding": 11.7, "title": "Transition Probability", "titleX": -58, "titleY": 143.5, "titleAngle": -90, "titleAlign": "center", "titleBaseline": "alphabetic"}},
  "color": {"field": "label", "type": "nominal", "sort": null,
            "scale": {"domain": ["No AD, Infarcts or LBD", "AD", "AD and Infarcts", "AD, Infarcts and LBD"], "range": ["#000000", "#6400ff", "#ffa500", "#ff0000"]}}
 }
}
]
}
